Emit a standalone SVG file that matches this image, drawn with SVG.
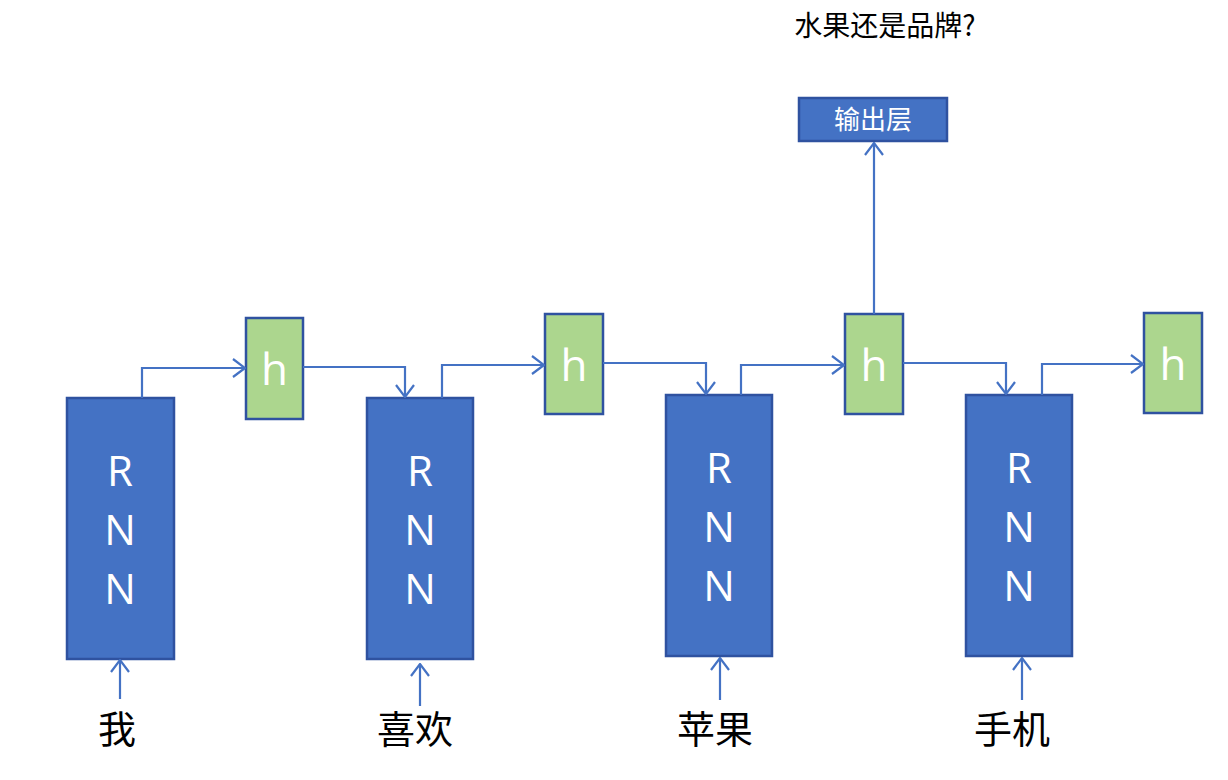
<svg xmlns="http://www.w3.org/2000/svg" width="1228" height="780" viewBox="0 0 1228 780">
<style>
.rnn{fill:#4472C4;stroke:#2F52A0;stroke-width:2.5}
.h{fill:#ACD68E;stroke:#2F52A0;stroke-width:2.5}
.wt{fill:#fff;font-family:"Open Sans","Noto Sans CJK SC",sans-serif;text-anchor:middle}
.bt{fill:#000;font-family:"Noto Sans CJK SC",sans-serif;text-anchor:middle}
.c{fill:none;stroke:#4472C4;stroke-width:2.2}
</style>
<defs>
<marker id="a" viewBox="0 0 14 20" refX="13" refY="10" markerWidth="14" markerHeight="20" markerUnits="userSpaceOnUse" orient="auto">
<path d="M1,1 L13,10 L1,19" fill="none" stroke="#4472C4" stroke-width="2.2"/>
</marker>
</defs>
<rect width="1228" height="780" fill="#fff"/>
<text x="885" y="36" class="bt" font-size="28">水果还是品牌?</text>
<g id="out"><rect x="799" y="98" width="148" height="43" class="rnn"/><text x="873" y="129" class="wt" font-size="26">输出层</text></g>
<g id="rnn1"><rect x="67" y="398" width="107" height="261" class="rnn"/><text class="wt" font-size="42"><tspan x="120" y="486">R</tspan><tspan x="120" y="545">N</tspan><tspan x="120" y="604">N</tspan></text></g>
<g id="rnn2"><rect x="367" y="398" width="106" height="261" class="rnn"/><text class="wt" font-size="42"><tspan x="420" y="486">R</tspan><tspan x="420" y="545">N</tspan><tspan x="420" y="604">N</tspan></text></g>
<g id="rnn3"><rect x="666" y="395" width="106" height="261" class="rnn"/><text class="wt" font-size="42"><tspan x="719" y="483">R</tspan><tspan x="719" y="542">N</tspan><tspan x="719" y="601">N</tspan></text></g>
<g id="rnn4"><rect x="966" y="395" width="106" height="261" class="rnn"/><text class="wt" font-size="42"><tspan x="1019" y="483">R</tspan><tspan x="1019" y="542">N</tspan><tspan x="1019" y="601">N</tspan></text></g>
<g id="h1"><rect x="246" y="318" width="57" height="101" class="h"/><text x="274.5" y="385" class="wt" font-size="44">h</text></g>
<g id="h2"><rect x="545" y="314" width="58" height="100" class="h"/><text x="574" y="381" class="wt" font-size="44">h</text></g>
<g id="h3"><rect x="845" y="314" width="58" height="100" class="h"/><text x="874" y="381" class="wt" font-size="44">h</text></g>
<g id="h4"><rect x="1144" y="313" width="58" height="100" class="h"/><text x="1173" y="380" class="wt" font-size="44">h</text></g>
<g id="w1"><text x="117" y="743" class="bt" font-size="38">我</text></g>
<g id="w2"><text x="415" y="743" class="bt" font-size="38">喜欢</text></g>
<g id="w3"><text x="715" y="743" class="bt" font-size="38">苹果</text></g>
<g id="w4"><text x="1012" y="743" class="bt" font-size="38">手机</text></g>
<g id="connectors">
<path class="c" d="M142,398 V368 H245" marker-end="url(#a)"/>
<path class="c" d="M303,367 H405 V397" marker-end="url(#a)"/>
<path class="c" d="M442,398 V365 H544" marker-end="url(#a)"/>
<path class="c" d="M603,363 H706 V394" marker-end="url(#a)"/>
<path class="c" d="M741,395 V365 H844" marker-end="url(#a)"/>
<path class="c" d="M903,363 H1006 V394" marker-end="url(#a)"/>
<path class="c" d="M1042,395 V364 H1143" marker-end="url(#a)"/>
<path class="c" d="M874,314 V143" marker-end="url(#a)"/>
<path class="c" d="M120,699 V660" marker-end="url(#a)"/>
<path class="c" d="M420,706 V664" marker-end="url(#a)"/>
<path class="c" d="M720,700 V658" marker-end="url(#a)"/>
<path class="c" d="M1022,700 V658" marker-end="url(#a)"/>
</g>
</svg>
